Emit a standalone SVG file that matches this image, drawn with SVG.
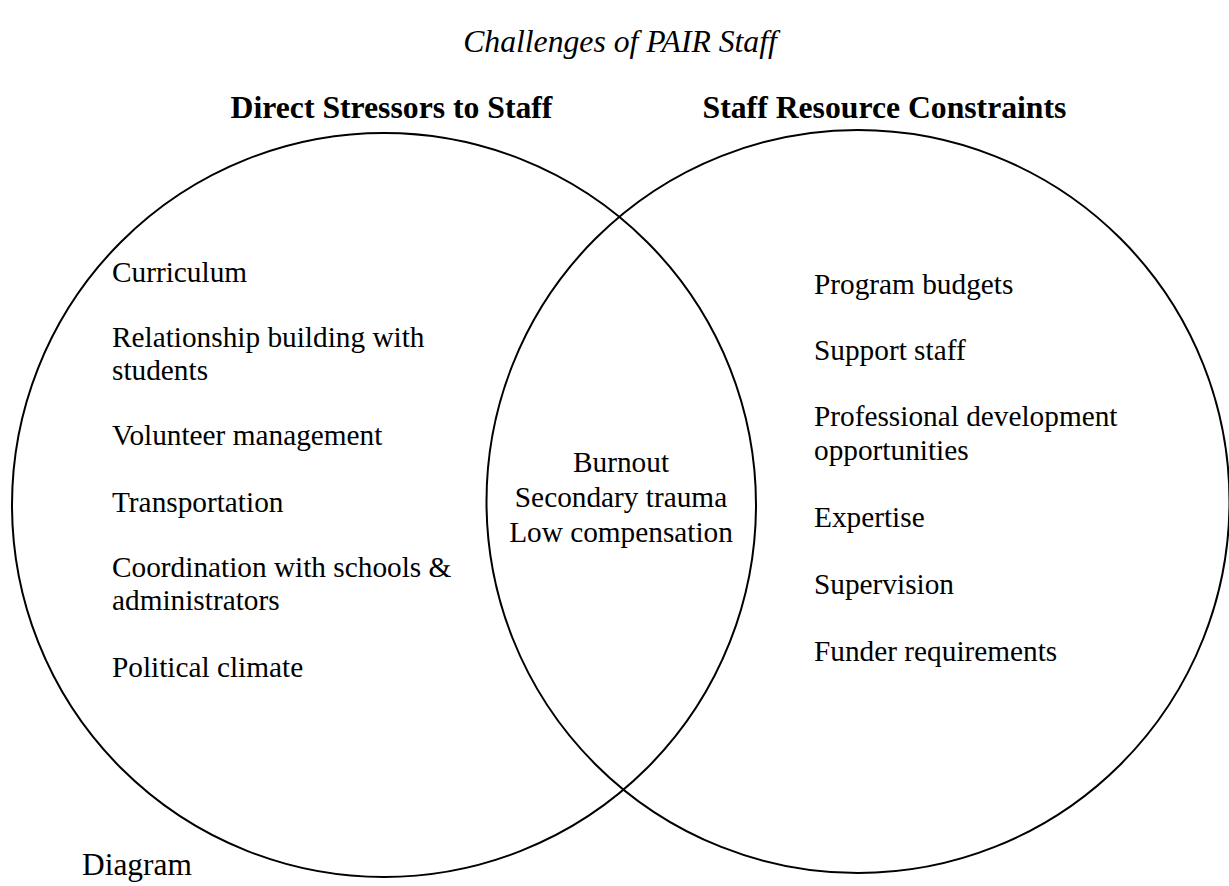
<svg xmlns="http://www.w3.org/2000/svg" width="1229" height="886" viewBox="0 0 1229 886">
  <style>
    .ring { fill: none; stroke: #000; stroke-width: 2; }
    .title { font-family: "Liberation Serif", "Times New Roman", serif; font-size: 31.7px; font-style: italic; fill: #000; }
    .head { font-family: "Liberation Serif", "Times New Roman", serif; font-size: 31.7px; font-weight: bold; fill: #000; }
    .item { font-family: "Liberation Serif", "Times New Roman", serif; font-size: 29.3px; fill: #000; }
    .caption { font-family: "Liberation Serif", "Times New Roman", serif; font-size: 31.4px; fill: #000; }
  </style>
  <rect width="1229" height="886" fill="#fff"/>

  <text class="title" x="620" y="52" text-anchor="middle">Challenges of PAIR Staff</text>

  <!-- Left set: direct stressors -->
  <g id="direct-stressors">
    <circle class="ring" cx="384" cy="505" r="372"/>
    <text class="head" x="391.5" y="118" text-anchor="middle">Direct Stressors to Staff</text>
    <text class="item" x="112" y="282">Curriculum</text>
    <text class="item" x="112" y="347">Relationship building with</text>
    <text class="item" x="112" y="380">students</text>
    <text class="item" x="112" y="445">Volunteer management</text>
    <text class="item" x="112" y="512">Transportation</text>
    <text class="item" x="112" y="577">Coordination with schools &amp;</text>
    <text class="item" x="112" y="610">administrators</text>
    <text class="item" x="112" y="677">Political climate</text>
  </g>

  <!-- Right set: resource constraints -->
  <g id="resource-constraints">
    <circle class="ring" cx="858" cy="501.5" r="371.5"/>
    <text class="head" x="884.5" y="118" text-anchor="middle">Staff Resource Constraints</text>
    <text class="item" x="814" y="294">Program budgets</text>
    <text class="item" x="814" y="360">Support staff</text>
    <text class="item" x="814" y="426">Professional development</text>
    <text class="item" x="814" y="460">opportunities</text>
    <text class="item" x="814" y="527">Expertise</text>
    <text class="item" x="814" y="594">Supervision</text>
    <text class="item" x="814" y="661">Funder requirements</text>
  </g>

  <!-- Overlap: shared challenges -->
  <g id="shared">
    <text class="item" x="621" y="472" text-anchor="middle">Burnout</text>
    <text class="item" x="621" y="507" text-anchor="middle">Secondary trauma</text>
    <text class="item" x="621" y="542" text-anchor="middle">Low compensation</text>
  </g>

  <text class="caption" x="82" y="875">Diagram</text>
</svg>
